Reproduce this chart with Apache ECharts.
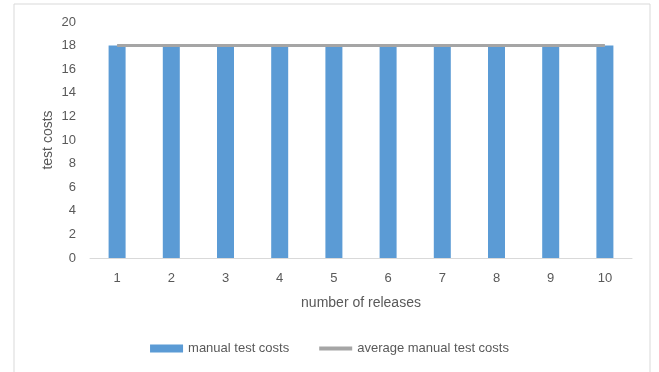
<!DOCTYPE html>
<html>
<head>
<meta charset="utf-8">
<script src="https://cdn.jsdelivr.net/npm/echarts@6/dist/echarts.min.js"></script>
<style>
  html, body { margin: 0; padding: 0; background: #fff; }
  #chart { width: 659px; height: 372px; }
</style>
</head>
<body>
<div id="chart"></div>
<script>
// Releases and their manual test costs
const releases = ['1', '2', '3', '4', '5', '6', '7', '8', '9', '10'];
const manualTestCosts = [18, 18, 18, 18, 18, 18, 18, 18, 18, 18];
const averageManualTestCosts = [18, 18, 18, 18, 18, 18, 18, 18, 18, 18];

const FONT = '"Liberation Sans", "DejaVu Sans", sans-serif';
const chart = echarts.init(document.getElementById('chart'));

chart.setOption({
  animation: false,
  graphic: [{
    type: 'rect',
    shape: { x: 14, y: 4, width: 636, height: 380 },
    style: { fill: 'none', stroke: '#d9d9d9', lineWidth: 1 },
    silent: true
  }],
  grid: { left: 90, right: 27, top: 22, bottom: 114 },
  legend: {
    bottom: 12,
    left: 'center',
    itemGap: 28,
    itemWidth: 33,
    itemHeight: 8,
    textStyle: { color: '#595959', fontFamily: FONT, fontSize: 13 },
    data: [
      { name: 'manual test costs', icon: 'rect' },
      {
        name: 'average manual test costs',
        itemStyle: { opacity: 0 },
        lineStyle: { width: 4, color: '#a5a5a5' }
      }
    ]
  },
  xAxis: {
    type: 'category',
    data: releases,
    name: 'number of releases',
    nameLocation: 'middle',
    nameGap: 38,
    nameTextStyle: { color: '#595959', fontFamily: FONT, fontSize: 14 },
    axisLine: { lineStyle: { color: '#d9d9d9', width: 1 } },
    axisTick: { show: false },
    axisLabel: { color: '#595959', fontFamily: FONT, fontSize: 13, margin: 14 }
  },
  yAxis: {
    type: 'value',
    min: 0,
    max: 20,
    interval: 2,
    name: 'test costs',
    nameLocation: 'middle',
    nameGap: 35,
    nameMoveOverlap: false,
    nameTextStyle: { color: '#595959', fontFamily: FONT, fontSize: 14 },
    axisLine: { show: false },
    axisTick: { show: false },
    splitLine: { show: false },
    axisLabel: { color: '#595959', fontFamily: FONT, fontSize: 13, margin: 14 }
  },
  series: [
    {
      name: 'manual test costs',
      type: 'bar',
      data: manualTestCosts,
      barWidth: 17,
      itemStyle: { color: '#5b9bd5' }
    },
    {
      name: 'average manual test costs',
      type: 'line',
      data: averageManualTestCosts,
      symbol: 'none',
      lineStyle: { color: '#a5a5a5', width: 3 },
      itemStyle: { color: '#a5a5a5' },
      z: 3
    }
  ]
});
</script>
</body>
</html>
